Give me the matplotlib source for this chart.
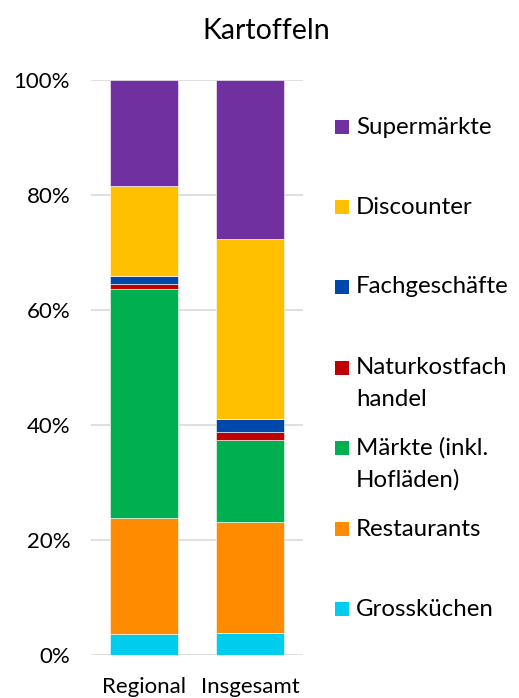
import matplotlib
matplotlib.use("Agg")
import matplotlib.pyplot as plt
import numpy as np
from matplotlib.patches import Rectangle

title = "Kartoffeln"
categories = ["Regional", "Insgesamt"]
series_names = ["Grossküchen", "Restaurants", "Märkte (inkl.\nHofläden)",
                "Naturkostfach\nhandel", "Fachgeschäfte", "Discounter", "Supermärkte"]
grosskuechen = [3.6, 3.8]
restaurants = [20.2, 19.3]
maerkte = [39.8, 14.35]
naturkost = [1.0, 1.35]
fachgeschaefte = [1.4, 2.2]
discounter = [15.6, 31.3]
supermaerkte = [18.4, 27.7]
yticks = [0, 20, 40, 60, 80, 100]
ytick_labels = ["0%", "20%", "40%", "60%", "80%", "100%"]

colors = ["#00CCEE", "#FF8C00", "#00B050", "#C00000", "#0047AB", "#FFC000", "#7030A0"]
series = [grosskuechen, restaurants, maerkte, naturkost, fachgeschaefte, discounter, supermaerkte]

plt.rcParams['font.family'] = ['Lato', 'DejaVu Sans']

fig = plt.figure(figsize=(5.19, 6.98), dpi=100)
W, H = 519, 698
ax = fig.add_axes([91/W, (H-655)/H, 212/W, 575/H])

x = np.arange(len(categories))
bottom = np.zeros(len(categories))
for vals, c in zip(series, colors):
    ax.bar(x, vals, bottom=bottom, width=0.64, color=c, edgecolor='white', linewidth=0.4, zorder=3)
    bottom += np.array(vals)

ax.set_xlim(-0.5, 1.5)
ax.set_ylim(0, 100)
ax.set_yticks(yticks)
ax.set_yticklabels(ytick_labels, fontsize=16, color='#000000')
ax.set_xticks(x)
ax.set_xticklabels(categories, fontsize=16, color='#000000')
ax.tick_params(axis='y', length=0, pad=15)
ax.tick_params(axis='x', length=0, pad=16)
ax.grid(axis='y', color='#D9D9D9', linewidth=1.2, zorder=0)
for s in ax.spines.values():
    s.set_visible(False)

fig.text(266/W, 1 - 31/H, title, ha='center', va='center', fontsize=20.5)

# legend (top to bottom: reversed order)
leg_y = [127, 207, 287, 368, 448, 529, 609]
for name, c, yy in zip(series_names[::-1], colors[::-1], leg_y):
    fig.patches.append(Rectangle((335/W, 1 - (yy + 7)/H), 14/W, 14/H,
                                 transform=fig.transFigure, facecolor=c, edgecolor='none'))
    for i, line in enumerate(name.split("\n")):
        fig.text(356/W, 1 - (yy + i * 32)/H, line, ha='left', va='center', fontsize=17.3)

fig.savefig("out.png", dpi=100)
